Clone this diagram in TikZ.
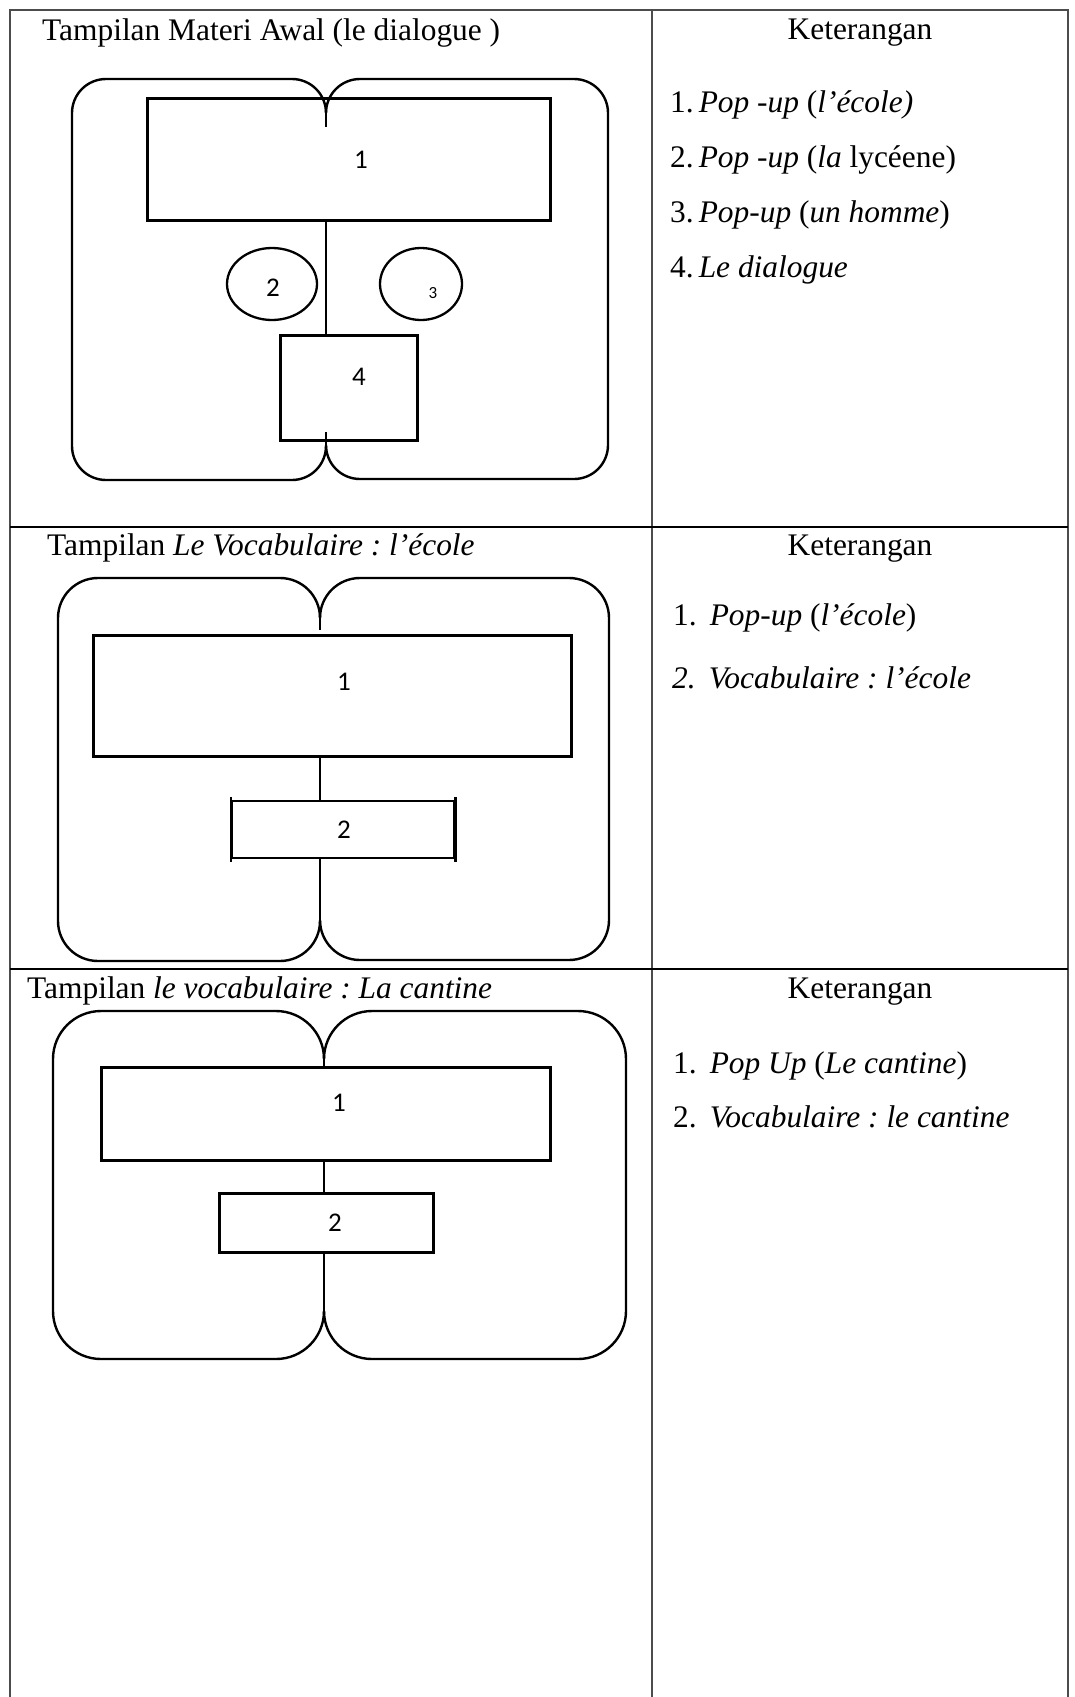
\documentclass[tikz,border=0pt]{standalone}
\usepackage{fontspec}
\setmainfont{Liberation Serif}
\newfontfamily\carlito{Carlito}
\usetikzlibrary{shapes.geometric}
\frenchspacing
\tikzset{
  grid/.style={draw=black!70, line width=2.2pt},
  rowline/.style={draw=black, line width=1.6pt},
  lobe/.style={draw=black, line width=2.4pt},
  box/.style={draw=black, line width=3pt, rectangle, inner sep=0pt},
  oval/.style={draw=black, line width=2.3pt, ellipse, inner sep=0pt},
  conn/.style={draw=black, line width=2.3pt},
  num/.style={font=\carlito\fontsize{27}{27}\selectfont, inner sep=0pt},
  smallnum/.style={font=\carlito\fontsize{17}{17}\selectfont, inner sep=0pt},
  txt/.style={font=\frenchspacing\fontsize{31.4}{31.4}\selectfont, anchor=base west, inner sep=0pt},
  head/.style={font=\fontsize{31.4}{31.4}\selectfont, anchor=base, inner sep=0pt}
}
\begin{document}
\begin{tikzpicture}[x=1pt,y=-1pt]
\useasboundingbox (0,0) rectangle (1074,1697);
% table grid
\coordinate (tl) at (10,10); \coordinate (tr) at (1068,10); \coordinate (tm) at (652,10);
\coordinate (bl) at (10,1697); \coordinate (br) at (1068,1697); \coordinate (bm) at (652,1697);
\draw[grid] (bl) -- (tl) -- (tr) -- (br);
\draw[grid] (tm) -- (bm);
\coordinate (r1l) at (10,527); \coordinate (r1r) at (1068,527);
\coordinate (r2l) at (10,969); \coordinate (r2r) at (1068,969);
\draw[rowline] (r1l) -- (r1r);
\draw[rowline] (r2l) -- (r2r);

% ---------- Row 1 ----------
\node[txt] (t1) at (42,40) {Tampilan Materi Awal (le dialogue )};
\node[head] (k1) at (860,39) {Keterangan};
\node[txt] (a1) at (670,112) {1.\hspace{5pt}\textit{Pop -up} (\textit{l’école)}};
\node[txt] (a2) at (670,167) {2.\hspace{5pt}\textit{Pop -up} (\textit{la} lycéene)};
\node[txt] (a3) at (670,222) {3.\hspace{5pt}\textit{Pop-up} (\textit{un homme})};
\node[txt] (a4) at (670,277) {4.\hspace{5pt}\textit{Le dialogue}};

\coordinate (c1t) at (326,113); \coordinate (c1te) at (326,127);
\coordinate (c1b) at (326,446); \coordinate (c1be) at (326,432);
\coordinate (p1a) at (326,79); \coordinate (p1b) at (72,79);
\coordinate (p1c) at (72,480); \coordinate (p1d) at (326,480);
\coordinate (q1a) at (326,79); \coordinate (q1b) at (608,79);
\coordinate (q1c) at (608,479); \coordinate (q1d) at (326,479);
\draw[lobe, rounded corners=34pt] (c1t) -- (p1a) -- (p1b) -- (p1c) -- (p1d) -- (c1b);
\draw[lobe, rounded corners=34pt] (c1t) -- (q1a) -- (q1b) -- (q1c) -- (q1d) -- ([yshift=1pt]c1b);
\draw[conn] (c1t) -- (c1te);
\draw[conn] (c1b) -- (c1be);
\node[box, minimum width=403pt, minimum height=122pt] (B11) at (348.5,159) {};
\node[num] (n11) at (361,160) {1};
\node[oval, minimum width=90pt, minimum height=72pt] (E12) at (272,284) {};
\node[num] (n12) at (273,288) {2};
\node[oval, minimum width=82pt, minimum height=72pt] (E13) at (421,284) {};
\node[smallnum] (n13) at (433,293) {3};
\node[box, minimum width=137pt, minimum height=105pt] (B14) at (348.5,387.5) {};
\node[num] (n14) at (359,377) {4};
\draw[conn] (B11.south -| c1t) -- (B14.north -| c1t);

% ---------- Row 2 ----------
\node[txt] (t2) at (47,555) {Tampilan \textit{Le Vocabulaire : l’école}};
\node[head] (k2) at (860,555) {Keterangan};
\node[txt] (b1) at (673,625) {1.\hspace{13pt}\textit{Pop-up} (\textit{l’école})};
\node[txt] (b2) at (672,688) {\textit{2.\hspace{13pt}Vocabulaire : l’école}};

\coordinate (c2t) at (320,618); \coordinate (c2te) at (320,630);
\coordinate (c2b) at (320,921);
\coordinate (p2a) at (320,578); \coordinate (p2b) at (58,578);
\coordinate (p2c) at (58,961); \coordinate (p2d) at (320,961);
\coordinate (q2a) at (320,578); \coordinate (q2b) at (609,578);
\coordinate (q2c) at (609,960); \coordinate (q2d) at (320,960);
\draw[lobe, rounded corners=40pt] (c2t) -- (p2a) -- (p2b) -- (p2c) -- (p2d) -- (c2b);
\draw[lobe, rounded corners=40pt] (c2t) -- (q2a) -- (q2b) -- (q2c) -- (q2d) -- ([yshift=1pt]c2b);
\draw[conn] (c2t) -- (c2te);
\node[box, minimum width=478pt, minimum height=121pt] (B21) at (332,695.5) {};
\node[num] (n21) at (344,682) {1};
\node[box, line width=2.5pt, minimum width=222pt, minimum height=57pt] (B22) at (343,829.5) {};
\node[num] (n22) at (344,830) {2};
\draw[line width=2.5pt] ([yshift=3pt]B22.north west) -- ([yshift=-3pt]B22.south west);
\draw[line width=2.5pt] ([yshift=3pt]B22.north east) -- ([yshift=-3pt]B22.south east);
\draw[conn] (B21.south -| c2t) -- (B22.north -| c2t);
\draw[conn] (B22.south -| c2t) -- (c2b);

% ---------- Row 3 ----------
\node[txt] (t3) at (27,998) {Tampilan \textit{le vocabulaire : La cantine}};
\node[head] (k3) at (860,998) {Keterangan};
\node[txt] (d1) at (673,1073) {1.\hspace{13pt}\textit{Pop Up} (\textit{Le cantine})};
\node[txt] (d2) at (673,1127) {2.\hspace{13pt}\textit{Vocabulaire : le cantine}};

\coordinate (c3t) at (324,1059);
\coordinate (c3b) at (324,1311);
\coordinate (p3a) at (324,1011); \coordinate (p3b) at (53,1011);
\coordinate (p3c) at (53,1359); \coordinate (p3d) at (324,1359);
\coordinate (q3a) at (324,1011); \coordinate (q3b) at (626,1011);
\coordinate (q3c) at (626,1359); \coordinate (q3d) at (324,1359);
\draw[lobe, rounded corners=48pt] (c3t) -- (p3a) -- (p3b) -- (p3c) -- (p3d) -- (c3b);
\draw[lobe, rounded corners=48pt] (c3t) -- (q3a) -- (q3b) -- (q3c) -- (q3d) -- (c3b);
\node[box, minimum width=449pt, minimum height=93pt] (B31) at (325.5,1113.5) {};
\node[num] (n31) at (339,1103) {1};
\node[box, minimum width=214pt, minimum height=59pt] (B32) at (326,1222.5) {};
\node[num] (n32) at (335,1223) {2};
\draw[conn] (c3t) -- (B31.north -| c3t);
\draw[conn] (B31.south -| c3t) -- (B32.north -| c3t);
\draw[conn] (B32.south -| c3t) -- (c3b);
\end{tikzpicture}
\end{document}
